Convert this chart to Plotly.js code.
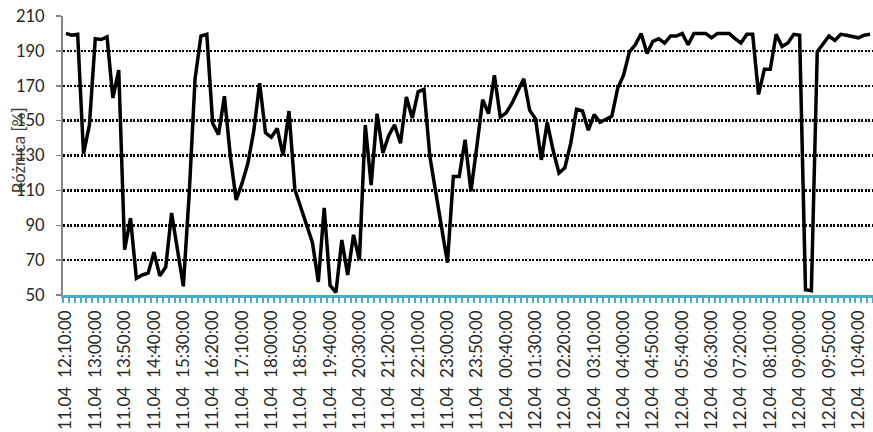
<!DOCTYPE html>
<html>
<head>
<meta charset="utf-8">
<script src="https://cdn.plot.ly/plotly-3.0.1.min.js"></script>
<style>
html,body{margin:0;padding:0;background:#fff;}
#chart{width:873px;height:432px;}
</style>
</head>
<body>
<div id="chart"></div>
<script>
// Categories: 10-minute timestamps
const categories = [
"11.04 12:10:00","11.04 12:20:00","11.04 12:30:00","11.04 12:40:00","11.04 12:50:00",
"11.04 13:00:00","11.04 13:10:00","11.04 13:20:00","11.04 13:30:00","11.04 13:40:00","11.04 13:50:00",
"11.04 14:00:00","11.04 14:10:00","11.04 14:20:00","11.04 14:30:00","11.04 14:40:00","11.04 14:50:00",
"11.04 15:00:00","11.04 15:10:00","11.04 15:20:00","11.04 15:30:00","11.04 15:40:00","11.04 15:50:00",
"11.04 16:00:00","11.04 16:10:00","11.04 16:20:00","11.04 16:30:00","11.04 16:40:00","11.04 16:50:00",
"11.04 17:00:00","11.04 17:10:00","11.04 17:20:00","11.04 17:30:00","11.04 17:40:00","11.04 17:50:00",
"11.04 18:00:00","11.04 18:10:00","11.04 18:20:00","11.04 18:30:00","11.04 18:40:00","11.04 18:50:00",
"11.04 19:00:00","11.04 19:10:00","11.04 19:20:00","11.04 19:30:00","11.04 19:40:00","11.04 19:50:00",
"11.04 20:00:00","11.04 20:10:00","11.04 20:20:00","11.04 20:30:00","11.04 20:40:00","11.04 20:50:00",
"11.04 21:00:00","11.04 21:10:00","11.04 21:20:00","11.04 21:30:00","11.04 21:40:00","11.04 21:50:00",
"11.04 22:00:00","11.04 22:10:00","11.04 22:20:00","11.04 22:30:00","11.04 22:40:00","11.04 22:50:00",
"11.04 23:00:00","11.04 23:10:00","11.04 23:20:00","11.04 23:30:00","11.04 23:40:00","11.04 23:50:00",
"12.04 00:00:00","12.04 00:10:00","12.04 00:20:00","12.04 00:30:00","12.04 00:40:00","12.04 00:50:00",
"12.04 01:00:00","12.04 01:10:00","12.04 01:20:00","12.04 01:30:00","12.04 01:40:00","12.04 01:50:00",
"12.04 02:00:00","12.04 02:10:00","12.04 02:20:00","12.04 02:30:00","12.04 02:40:00","12.04 02:50:00",
"12.04 03:00:00","12.04 03:10:00","12.04 03:20:00","12.04 03:30:00","12.04 03:40:00","12.04 03:50:00",
"12.04 04:00:00","12.04 04:10:00","12.04 04:20:00","12.04 04:30:00","12.04 04:40:00","12.04 04:50:00",
"12.04 05:00:00","12.04 05:10:00","12.04 05:20:00","12.04 05:30:00","12.04 05:40:00","12.04 05:50:00",
"12.04 06:00:00","12.04 06:10:00","12.04 06:20:00","12.04 06:30:00","12.04 06:40:00","12.04 06:50:00",
"12.04 07:00:00","12.04 07:10:00","12.04 07:20:00","12.04 07:30:00","12.04 07:40:00","12.04 07:50:00",
"12.04 08:00:00","12.04 08:10:00","12.04 08:20:00","12.04 08:30:00","12.04 08:40:00","12.04 08:50:00",
"12.04 09:00:00","12.04 09:10:00","12.04 09:20:00","12.04 09:30:00","12.04 09:40:00","12.04 09:50:00",
"12.04 10:00:00","12.04 10:10:00","12.04 10:20:00","12.04 10:30:00","12.04 10:40:00","12.04 10:50:00",
"12.04 11:00:00"
];

// Series: Różnica [%]
const roznica = [
200, 199, 199.5, 131, 147.5, 197, 196.5, 198, 163, 179,
76, 94, 59.5, 61.5, 62.5, 74.5, 61, 66, 97, 77,
55, 108, 174, 198.5, 199.5, 148.5, 142, 164, 130, 104.5,
114, 125.5, 144, 171.5, 143, 140.5, 145.5, 130, 155.5, 110.5,
100, 90, 80, 57.5, 100, 55.5, 51.5, 81.5, 61.5, 84.5,
70, 147.5, 113, 154, 131.5, 141.5, 147.5, 137, 163.5, 151.5,
166.5, 168, 129.5, 109, 89, 68.5, 118, 118, 139, 109.5,
135, 162, 154, 176, 152, 154.5, 160, 167, 174, 156,
151, 127.5, 149, 133, 120, 123, 137, 156.5, 155.5, 144.5,
153.5, 149, 151, 152.5, 168.5, 176, 189.5, 193.5, 200, 188.5,
195.5, 197, 194.5, 198.5, 198.5, 200, 193.5, 200, 200, 200,
197.5, 200, 200, 200, 197, 194.5, 199.5, 199.5, 165, 179.5,
179.5, 199.5, 192.5, 194.5, 199.5, 199, 53, 52.5, 189.5, 194,
198.5, 196, 199.5, 199, 198, 197.5, 199, 199.5
];

const yTicks = [50, 70, 90, 110, 130, 150, 170, 190, 210];
const labelEvery = 5;
const yTitle = "Różnica [%]";

const tickText = categories.map((c, i) =>
  i % labelEvery === 0 ? c.replace(" ", "\u00a0\u00a0") : "");

const trace = {
  x: categories,
  y: roznica,
  type: "scatter",
  mode: "lines",
  line: { color: "#000000", width: 3.5, shape: "linear" },
  hoverinfo: "skip"
};

const layout = {
  width: 873,
  height: 432,
  margin: { l: 63, r: 0, t: 16, b: 137, pad: 0 },
  paper_bgcolor: "#ffffff",
  plot_bgcolor: "#ffffff",
  showlegend: false,
  xaxis: {
    type: "category",
    range: [-0.5, categories.length - 0.5],
    tickmode: "array",
    tickvals: categories,
    ticktext: tickText,
    tickangle: -90,
    ticks: "outside",
    tickson: "boundaries",
    ticklen: 5,
    tickwidth: 2,
    tickcolor: "#4BACC6",
    showline: true,
    linecolor: "#4BACC6",
    linewidth: 2.5,
    showgrid: false,
    zeroline: false,
    automargin: false,
    ticklabelstandoff: 6,
    tickfont: { family: "Lato, 'Open Sans', sans-serif", size: 17, color: "#262626" }
  },
  yaxis: {
    range: [50, 210],
    tickmode: "array",
    tickvals: yTicks,
    ticktext: yTicks.map(String),
    showgrid: true,
    gridcolor: "#000000",
    gridwidth: 2.5,
    griddash: "2px,1.5px",
    showline: true,
    linecolor: "#868686",
    linewidth: 2,
    ticks: "outside",
    ticklen: 5,
    tickwidth: 1.5,
    tickcolor: "#868686",
    zeroline: false,
    automargin: false,
    ticklabelstandoff: 8,
    tickfont: { family: "Lato, 'Open Sans', sans-serif", size: 16.5, color: "#262626" }
  },
  annotations: [{
    text: yTitle,
    xref: "paper", yref: "paper",
    x: -0.054, y: 0.52,
    xanchor: "center", yanchor: "middle",
    textangle: -90,
    showarrow: false,
    font: { family: "Lato, 'Open Sans', sans-serif", size: 17, color: "#404040" }
  }]
};

Plotly.newPlot("chart", [trace], layout, { displayModeBar: false, staticPlot: true });
</script>
</body>
</html>
